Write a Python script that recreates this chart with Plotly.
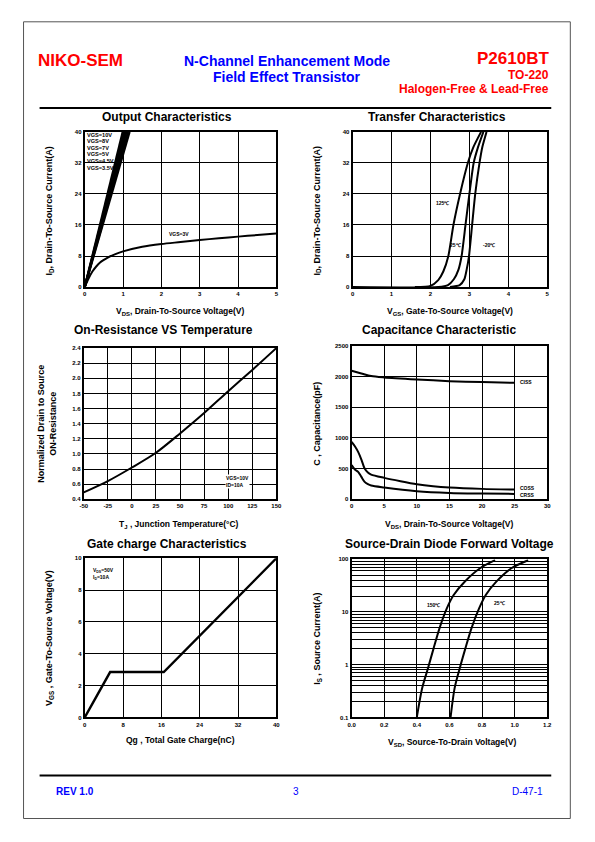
import plotly.graph_objects as go

W, H = 595, 842
FONT = "Liberation Sans, Arial, sans-serif"

# ---------------- data ----------------
# Output characteristics
out_bundle_labels = ["VGS=10V", "VGS=8V", "VGS=7V", "VGS=5V", "VGS=4.5V", "VGS=3.5V"]
out_label_y = [39.3, 37.6, 35.9, 34.2, 32.5, 30.8]
out_bundle_vds = [[0, 0.99], [0, 1.03], [0, 1.06], [0, 1.09], [0, 1.13], [0, 1.17]]
out_bundle_id = [[0, 40], [0, 40], [0, 40], [0, 40], [0, 40], [0, 40]]
out_3v_vds = [0, 0.1, 0.2, 0.3, 0.4, 0.5, 0.6, 0.8, 1.0, 1.5, 2.0, 2.5, 3.0, 3.5, 4.0, 4.5, 5.0]
out_3v_id = [0, 2.2, 4.0, 5.3, 6.3, 7.0, 7.6, 8.5, 9.2, 10.4, 11.1, 11.6, 12.1, 12.6, 13.0, 13.4, 13.8]

# Transfer characteristics
tr_125_vgs = [1.6, 2.0, 2.2, 2.33, 2.46, 2.59, 2.76, 2.96, 3.1, 3.3]
tr_125_id = [0, 0.3, 1.8, 4, 8, 16, 24, 32, 36, 40]
tr_25_vgs = [0, 2.2, 2.45, 2.6, 2.72, 2.8, 2.9, 3.0, 3.11, 3.22, 3.36]
tr_25_id = [0, 0, 0.5, 2, 4.5, 8, 16, 24, 32, 36, 40]
tr_m20_vgs = [2.5, 2.75, 2.87, 2.93, 2.99, 3.07, 3.15, 3.26, 3.33, 3.44]
tr_m20_id = [0, 0.5, 2, 4.5, 8, 16, 24, 32, 36, 40]

# On-resistance vs temperature
ron_tj = [-50, -25, 0, 25, 50, 75, 100, 125, 150]
ron_norm = [0.49, 0.64, 0.82, 1.015, 1.27, 1.54, 1.83, 2.11, 2.4]

# Capacitance
cap_ciss_v = [0, 1.5, 3, 5, 10, 15, 20, 25]
cap_ciss = [2097, 2053, 2010, 1988, 1955, 1928, 1912, 1901]
cap_coss_v = [0, 0.5, 1, 1.5, 2, 2.5, 3, 5, 7.5, 10, 12.5, 15, 20, 25]
cap_coss = [937, 866, 773, 648, 501, 436, 403, 349, 294, 245, 212, 191, 169, 158]
cap_crss_v = [0, 0.5, 1, 1.5, 2, 2.5, 3, 5, 10, 15, 20, 25]
cap_crss = [556, 485, 447, 365, 283, 245, 223, 191, 131, 103, 93, 87]

# Gate charge
gc_qg = [0, 5.3, 16.5, 40]
gc_vgs = [0, 2.85, 2.85, 10]

# Source-drain diode
sd_150_vsd = [0.40, 0.433, 0.468, 0.503, 0.539, 0.584, 0.626, 0.695, 0.788, 0.88]
sd_25_vsd = [0.607, 0.632, 0.663, 0.698, 0.735, 0.782, 0.823, 0.889, 0.98, 1.083]
sd_is = [0.1, 0.36, 0.85, 2.04, 4.9, 11.7, 21, 38, 67.6, 96]

# tick labels
ron_ticks = [-50, -25, 0, 25, 50, 75, 100, 125, 150]
ron_ticktext = ["-50", "-25", "0", "25", "50", "75", "100", "125", "150"]
sd_ticks = [0.1, 1, 10, 100]
sd_ticktext = ["0.1", "1", "10", "100"]

# ---------------- layout helpers ----------------
# correction for how the page is placed in the screenshot
AX, BX = 0.98, 13.5
AY, BY = 0.992, 11.2

def px(x):
    return ((x - BX) / AX) / W

def py(y):
    return 1 - ((y - BY) / AY) / H

# plot areas in reference pixels: (left, right, top, bottom)
areas = {
    1: (86, 277, 132, 287),
    2: (353, 547, 132, 287),
    3: (85, 277, 348, 499),
    4: (352, 547, 346, 499),
    5: (86, 277, 558, 717),
    6: (352, 547, 559, 717),
}

fig = go.Figure()
LW = 2

def add_line(n, x, y, shape="spline", width=LW, smoothing=0.8):
    fig.add_trace(go.Scatter(
        x=x, y=y, mode="lines", xaxis=f"x{n}", yaxis=f"y{n}",
        line=dict(color="black", width=width, shape=shape, smoothing=smoothing if shape == "spline" else None),
        showlegend=False, hoverinfo="skip"))

for vx, vy in zip(out_bundle_vds, out_bundle_id):
    add_line(1, vx, vy, shape="linear", width=2.2)
add_line(1, out_3v_vds, out_3v_id)
add_line(2, tr_125_vgs, tr_125_id, smoothing=0.6)
add_line(2, tr_25_vgs, tr_25_id, smoothing=0.6)
add_line(2, tr_m20_vgs, tr_m20_id, smoothing=0.6)
add_line(3, ron_tj, ron_norm)
add_line(4, cap_ciss_v, cap_ciss)
add_line(4, cap_coss_v, cap_coss)
add_line(4, cap_crss_v, cap_crss)
add_line(5, gc_qg, gc_vgs, shape="linear", width=2.4)
add_line(6, sd_150_vsd, sd_is)
add_line(6, sd_25_vsd, sd_is)

tickfont = dict(family=FONT, size=6, color="black", weight="bold")
axis_common = dict(showgrid=True, gridcolor="black", gridwidth=1.3, showline=True,
                   linecolor="black", linewidth=2, mirror=True, ticks="",
                   zeroline=False, tickfont=tickfont, fixedrange=True)

x_cfg = {
    1: dict(range=[0, 5], dtick=1, tick0=0),
    2: dict(range=[0, 5], dtick=1, tick0=0),
    3: dict(range=[-50, 150], tickvals=ron_ticks, ticktext=ron_ticktext),
    4: dict(range=[0, 30], dtick=5, tick0=0),
    5: dict(range=[0, 40], dtick=8, tick0=0),
    6: dict(range=[0, 1.2], dtick=0.2, tick0=0, tickformat=".1f"),
}
y_cfg = {
    1: dict(range=[0, 40], dtick=8, tick0=0),
    2: dict(range=[0, 40], dtick=8, tick0=0),
    3: dict(range=[0.4, 2.4], dtick=0.2, tick0=0.4, tickformat=".1f"),
    4: dict(range=[0, 2500], dtick=500, tick0=0),
    5: dict(range=[0, 10], dtick=2, tick0=0),
    6: dict(type="log", range=[-1, 2], tickvals=sd_ticks, ticktext=sd_ticktext,
            minor=dict(dtick="D1", showgrid=True, gridcolor="black", gridwidth=1, ticks="")),
}

layout_axes = {}
for n, (l, r, t, b) in areas.items():
    xa = dict(axis_common, domain=[px(l), px(r)], anchor=f"y{n}", **x_cfg[n])
    ya = dict(axis_common, domain=[py(b), py(t)], anchor=f"x{n}", **y_cfg[n])
    layout_axes["xaxis" if n == 1 else f"xaxis{n}"] = xa
    layout_axes["yaxis" if n == 1 else f"yaxis{n}"] = ya

fig.update_layout(width=W, height=H, margin=dict(l=0, r=0, t=0, b=0),
                  paper_bgcolor="white", plot_bgcolor="white", showlegend=False,
                  **layout_axes)

ann = []

def text(x, y, s, size, color="black", bold=True, xanchor="center", angle=0, yanchor="middle", align="center"):
    ann.append(dict(x=px(x), y=py(y), xref="paper", yref="paper", text=s, showarrow=False,
                    xanchor=xanchor, yanchor=yanchor, textangle=angle, align=align,
                    font=dict(family=FONT, size=size, color=color, weight="bold" if bold else "normal")))

RED, BLUE = "#ff0000", "#0000ff"
# header
text(37, 61, "NIKO-SEM", 17, RED, xanchor="left")
text(288, 61, "N-Channel Enhancement Mode", 14, BLUE)
text(288, 77, "Field Effect Transistor", 14, BLUE)
text(551, 59, "P2610BT", 17, RED, xanchor="right")
text(551, 75, "TO-220", 12, RED, xanchor="right")
text(551, 89, "Halogen-Free &amp; Lead-Free", 12, RED, xanchor="right")
# footer
text(55, 791, "REV 1.0", 10, BLUE, xanchor="left")
text(297, 791, "3", 10, BLUE, bold=False)
text(545, 791, "D-47-1", 10, BLUE, bold=False, xanchor="right")

# chart titles
text(168, 117, "Output Characteristics", 12)
text(437, 117, "Transfer Characteristics", 12)
text(165, 330, "On-Resistance VS Temperature", 12)
text(439, 330, "Capacitance Characteristic", 12)
text(168, 544, "Gate charge Characteristics", 12)
text(450, 544, "Source-Drain Diode Forward Voltage", 12)

# axis titles
text(181, 311, "V<sub>DS</sub>, Drain-To-Source Voltage(V)", 8.5)
text(450, 311, "V<sub>GS</sub>, Gate-To-Source Voltage(V)", 8.5)
text(180, 524, "T<sub>J</sub> , Junction Temperature(°C)", 8.5)
text(450, 524, "V<sub>DS</sub>, Drain-To-Source Voltage(V)", 8.5)
text(181, 740, "Qg , Total Gate Charge(nC)", 8.5)
text(453, 742, "V<sub>SD</sub>, Source-To-Drain Voltage(V)", 8.5)

text(51, 211, "I<sub>D</sub>, Drain-To-Source Current(A)", 9, angle=-90)
text(318, 211, "I<sub>D</sub>, Drain-To-Source Current(A)", 9, angle=-90)
text(49, 424, "Normalized Drain to Source<br>ON-Resistance", 9, angle=-90)
text(318, 423, "C , Capacitance(pF)", 9, angle=-90)
text(51, 638, "V<sub>GS</sub> , Gate-To-Source Voltage(V)", 9, angle=-90)
text(318, 638, "I<sub>S</sub> , Source Current(A)", 9, angle=-90)

# in-plot labels
def dlabel(n, x, y, s, size=5, xanchor="center", bg=None, align="center"):
    d = dict(x=x, y=y, xref=f"x{n}", yref=f"y{n}", text=s, showarrow=False, xanchor=xanchor,
             yanchor="middle", align=align, borderpad=0,
             font=dict(family=FONT, size=size, color="black", weight="bold"))
    if bg:
        d["bgcolor"] = bg
    ann.append(d)

for lab, ly in zip(out_bundle_labels, out_label_y):
    dlabel(1, 0.03, ly, lab, size=5.6, xanchor="left")
dlabel(1, 2.45, 13.6, "VGS=3V")
dlabel(2, 2.32, 21.6, "125℃")
dlabel(2, 2.65, 10.8, "25℃")
dlabel(2, 3.5, 10.8, "-20℃")
dlabel(3, 97, 0.635, "VGS=10V<br>ID=10A", xanchor="left", bg="white", align="left")
dlabel(4, 25.7, 1912, "CISS", xanchor="left")
dlabel(4, 25.7, 185, "COSS", xanchor="left")
dlabel(4, 25.7, 76, "CRSS", xanchor="left")
dlabel(5, 1.5, 9.0, "V<sub>DS</sub>=50V<br>I<sub>D</sub>=10A", xanchor="left", bg="white", align="left")
dlabel(6, 0.50, 1.13, "150℃")   # log axis: y given in log10 units
dlabel(6, 0.91, 1.165, "25℃")
fig.update_layout(annotations=ann)

shapes = [
    dict(type="line", xref="paper", yref="paper", x0=px(41), x1=px(551), y0=py(108), y1=py(108),
         line=dict(color="black", width=2)),
    dict(type="line", xref="paper", yref="paper", x0=px(41), x1=px(551), y0=py(775), y1=py(775),
         line=dict(color="black", width=2)),
    dict(type="rect", xref="paper", yref="paper", x0=px(25), x1=px(570), y0=py(818), y1=py(22),
         line=dict(color="#555555", width=1)),
]
fig.update_layout(shapes=shapes)

fig.write_html("out.html")
